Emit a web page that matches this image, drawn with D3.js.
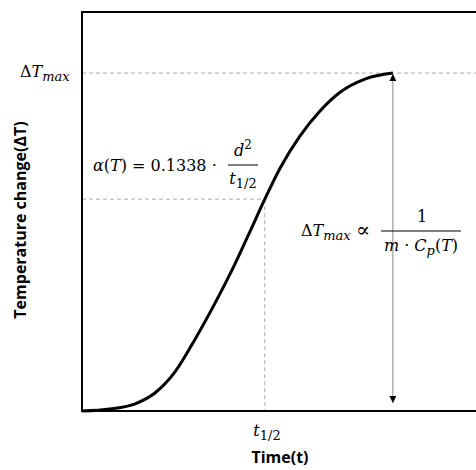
<!DOCTYPE html>
<meta charset="utf-8">
<style>
    body { margin: 0; background: #fff; }
    .axis-title { font-family: "Open Sans", "Liberation Sans", sans-serif; font-weight: bold; font-size: 16px; }
    .math { font-family: "DejaVu Serif", "Liberation Serif", serif; font-size: 16px; }
    .math .it { font-style: italic; }
</style>
<body>
<div id="chart"></div>
<script src="https://cdn.jsdelivr.net/npm/d3@7"></script>
<script>
    // time (arbitrary units) and temperature rise (fraction of frame height)
    var timeValues = [0, 0.71, 1.35, 1.85, 2.36, 2.87, 3.38, 3.88, 4.26, 4.64, 5.03, 5.53, 6.04, 6.55, 7.18, 7.89];
    var deltaTValues = [0, 0.005, 0.018, 0.045, 0.098, 0.180, 0.271, 0.368, 0.449, 0.531, 0.609, 0.689, 0.752, 0.799, 0.832, 0.847];
    var tHalf = 4.64, halfValue = 0.531;
    var tMax = 7.89, deltaTMax = 0.847;

    var width = 476, height = 470;
    var plotLeft = 82, plotRight = 476, plotTop = 12, plotBottom = 411;

    var svg = d3.select("#chart").append("svg")
        .attr("width", width)
        .attr("height", height);

    var x = d3.scaleLinear().domain([0, 10]).range([plotLeft, plotRight]);
    var y = d3.scaleLinear().domain([0, 1]).range([plotBottom, plotTop]);

    var defs = svg.append("defs");
    ["up", "down"].forEach(function (dir) {
        defs.append("marker")
            .attr("id", "arrow-" + dir)
            .attr("viewBox", "0 0 10 10")
            .attr("refX", 5).attr("refY", dir == "up" ? 0 : 10)
            .attr("markerWidth", 7).attr("markerHeight", 8)
            .attr("markerUnits", "userSpaceOnUse")
            .attr("orient", 0)
            .append("path")
            .attr("d", dir == "up" ? "M0,10L5,0L10,10Z" : "M0,0L5,10L10,0Z")
            .attr("fill", "#000");
    });

    // guide lines
    var dash = "4,3";
    svg.append("line")
        .attr("x1", x(0)).attr("x2", plotRight)
        .attr("y1", y(deltaTMax)).attr("y2", y(deltaTMax))
        .attr("stroke", "#aaa").attr("stroke-dasharray", dash);
    svg.append("line")
        .attr("x1", x(0)).attr("x2", x(tHalf))
        .attr("y1", y(halfValue)).attr("y2", y(halfValue))
        .attr("stroke", "#aaa").attr("stroke-dasharray", dash);
    svg.append("line")
        .attr("x1", x(tHalf)).attr("x2", x(tHalf))
        .attr("y1", y(halfValue)).attr("y2", y(0))
        .attr("stroke", "#aaa").attr("stroke-dasharray", dash);

    // frame (left, top, bottom)
    svg.append("path")
        .attr("d", "M" + plotRight + "," + plotTop + "H" + plotLeft + "V" + plotBottom + "H" + plotRight)
        .attr("fill", "none").attr("stroke", "#000").attr("stroke-width", 2);

    // arrow for ΔTmax
    svg.append("line")
        .attr("x1", x(tMax)).attr("x2", x(tMax))
        .attr("y1", y(deltaTMax) + 1).attr("y2", y(0) - 8)
        .attr("stroke", "#888").attr("stroke-width", 1)
        .attr("marker-start", "url(#arrow-up)")
        .attr("marker-end", "url(#arrow-down)");

    // curve
    var line = d3.line()
        .x(function (d) { return x(d[0]); })
        .y(function (d) { return y(d[1]); })
        .curve(d3.curveMonotoneX);
    svg.append("path")
        .datum(d3.zip(timeValues, deltaTValues))
        .attr("d", line)
        .attr("fill", "none").attr("stroke", "#000").attr("stroke-width", 3);

    // axis titles
    svg.append("text").attr("class", "axis-title")
        .attr("x", 280).attr("y", 463).attr("text-anchor", "middle")
        .text("Time(t)");
    svg.append("text").attr("class", "axis-title")
        .attr("transform", "translate(26,220) rotate(-90)")
        .attr("text-anchor", "middle")
        .text("Temperature change(ΔT)");

    // math labels
    function deltaTmaxLabel(g) {
        var t = g.append("text").attr("class", "math");
        t.append("tspan").text("Δ");
        t.append("tspan").attr("class", "it").text("T");
        t.append("tspan").attr("class", "it").attr("dy", 4).attr("font-size", 13).text("max");
        return t;
    }

    deltaTmaxLabel(svg.append("g").attr("transform", "translate(20,77)"));

    svg.append("text").attr("class", "math")
        .attr("x", 267).attr("y", 436).attr("text-anchor", "middle")
        .call(function (t) {
            t.append("tspan").attr("class", "it").text("t");
            t.append("tspan").attr("dy", 4).attr("font-size", 13).text("1/2");
        });

    // α(T) formula
    var f1 = svg.append("g").attr("transform", "translate(93,171)");
    var t1 = f1.append("text").attr("class", "math");
    t1.append("tspan").attr("class", "it").text("α");
    t1.append("tspan").text("(");
    t1.append("tspan").attr("class", "it").text("T");
    t1.append("tspan").text(") = 0.1338 ·");
    f1.append("line").attr("x1", 135).attr("x2", 165).attr("y1", -6).attr("y2", -6)
        .attr("stroke", "#000").attr("stroke-width", 1);
    var num1 = f1.append("text").attr("class", "math").attr("x", 150).attr("y", -15).attr("text-anchor", "middle");
    num1.append("tspan").attr("class", "it").text("d");
    num1.append("tspan").attr("dy", -7).attr("font-size", 12).text("2");
    var den1 = f1.append("text").attr("class", "math").attr("x", 150).attr("y", 13).attr("text-anchor", "middle");
    den1.append("tspan").attr("class", "it").text("t");
    den1.append("tspan").attr("dy", 4).attr("font-size", 13).text("1/2");

    // ΔTmax ∝ formula
    var f2 = svg.append("g").attr("transform", "translate(301,236)");
    deltaTmaxLabel(f2);
    f2.append("text").attr("class", "math").attr("x", 55).attr("y", 1)
        .style("font-size", "21px").text("∝");
    f2.append("line").attr("x1", 80).attr("x2", 160).attr("y1", -5).attr("y2", -5)
        .attr("stroke", "#000").attr("stroke-width", 1);
    f2.append("text").attr("class", "math").attr("x", 121).attr("y", -14).attr("text-anchor", "middle").text("1");
    var den2 = f2.append("text").attr("class", "math").attr("x", 120).attr("y", 15).attr("text-anchor", "middle");
    den2.append("tspan").attr("class", "it").text("m");
    den2.append("tspan").text(" · ");
    den2.append("tspan").attr("class", "it").text("C");
    den2.append("tspan").attr("class", "it").attr("dy", 4).attr("font-size", 13).text("p");
    den2.append("tspan").attr("dy", -4).text("(");
    den2.append("tspan").attr("class", "it").text("T");
    den2.append("tspan").text(")");
</script>
</body>
